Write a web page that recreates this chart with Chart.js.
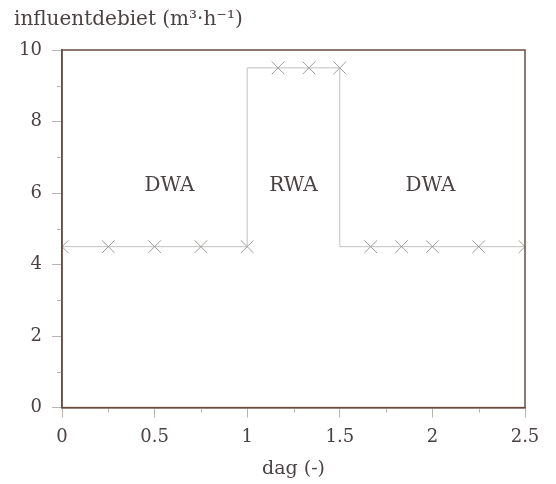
<!DOCTYPE html>
<html>
<head>
<meta charset="utf-8">
<script src="https://cdn.jsdelivr.net/npm/chart.js@4.4.1/dist/chart.umd.min.js"></script>
<style>
  html, body { margin: 0; padding: 0; background: #ffffff; }
  #wrap { width: 556px; height: 484px; }
</style>
</head>
<body>
<div id="wrap"><canvas id="chart" width="556" height="484"></canvas></div>
<script>
// Influent flow over time (days), dry-weather and rain-weather periods
const days = [0, 0.25, 0.5, 0.75, 1.0, 1.1667, 1.3333, 1.5, 1.6667, 1.8333, 2.0, 2.25, 2.5];
const flow = [4.5, 4.5, 4.5, 4.5, 4.5, 9.5, 9.5, 9.5, 4.5, 4.5, 4.5, 4.5, 4.5];

// Period labels and where they sit in data units
const periodNames = ['DWA', 'RWA', 'DWA'];
const periodX = [0.58, 1.25, 1.99];
const periodY = [6.2, 6.2, 6.2];

// Axis ticks
const xMajor = [0, 0.5, 1, 1.5, 2, 2.5];
const xMinor = [0.25, 0.75, 1.25, 1.75, 2.25];
const yMajor = [0, 2, 4, 6, 8, 10];
const yMinor = [1, 3, 5, 7, 9];

const textColor = '#4a4242';
const frameColor = '#6a4c40';
const tickColor = '#b8b4b0';
const serif = 'DejaVu Serif';

const frameAndMinor = {
  id: 'frameAndMinor',
  afterDraw(chart) {
    const { ctx, chartArea: a, scales: { x, y } } = chart;
    ctx.save();
    // minor tick marks
    ctx.strokeStyle = tickColor;
    ctx.lineWidth = 1;
    ctx.beginPath();
    yMinor.forEach(v => {
      const py = Math.round(y.getPixelForValue(v)) + 0.5;
      ctx.moveTo(a.left - 5, py); ctx.lineTo(a.left, py);
    });
    xMinor.forEach(v => {
      const px = Math.round(x.getPixelForValue(v)) + 0.5;
      ctx.moveTo(px, a.bottom); ctx.lineTo(px, a.bottom + 5);
    });
    ctx.stroke();
    // box around the plot area
    ctx.strokeStyle = frameColor;
    ctx.lineWidth = 1.5;
    ctx.strokeRect(a.left, a.top, a.right - a.left, a.bottom - a.top);
    // period labels
    ctx.fillStyle = textColor;
    ctx.font = '20px "' + serif + '"';
    ctx.textAlign = 'center';
    ctx.textBaseline = 'middle';
    periodNames.forEach((name, i) => {
      ctx.fillText(name, x.getPixelForValue(periodX[i]), y.getPixelForValue(periodY[i]));
    });
    ctx.restore();
  }
};

new Chart(document.getElementById('chart'), {
  type: 'scatter',
  data: {
    datasets: [
      {
        label: 'influentdebiet',
        data: days.map((d, i) => ({ x: d, y: flow[i] })),
        showLine: true,
        stepped: 'after',
        borderColor: '#c4c2c0',
        borderWidth: 1,
        pointStyle: 'crossRot',
        pointRadius: 9,
        pointBorderColor: '#a09e9c',
        pointBorderWidth: 1,
        pointBackgroundColor: '#a09e9c'
      }
    ]
  },
  options: {
    responsive: false,
    animation: false,
    layout: { padding: { left: 14, right: 31, top: 0, bottom: 0 } },
    plugins: {
      legend: { display: false },
      tooltip: { enabled: false },
      title: {
        display: true,
        text: 'influentdebiet (m³·h⁻¹)',
        align: 'start',
        color: textColor,
        font: { family: serif, size: 20, weight: 'normal' },
        padding: { top: 8, bottom: 18 }
      }
    },
    scales: {
      x: {
        type: 'linear',
        min: 0,
        max: 2.5,
        afterBuildTicks: s => { s.ticks = xMajor.map(v => ({ value: v })); },
        ticks: {
          color: textColor,
          font: { family: serif, size: 18 },
          padding: 9,
          maxRotation: 0,
          callback: v => String(v)
        },
        grid: { drawOnChartArea: false, tickLength: 10, tickColor: tickColor },
        border: { color: frameColor, width: 1.5 },
        title: {
          display: true,
          text: 'dag (-)',
          color: textColor,
          font: { family: serif, size: 19 },
          padding: { top: 0, bottom: 4 }
        }
      },
      y: {
        type: 'linear',
        min: 0,
        max: 10,
        afterBuildTicks: s => { s.ticks = yMajor.map(v => ({ value: v })); },
        afterFit: s => { s.width = 48; },
        ticks: {
          color: textColor,
          font: { family: serif, size: 18 },
          padding: 10,
          callback: v => String(v)
        },
        grid: { drawOnChartArea: false, tickLength: 10, tickColor: tickColor },
        border: { color: frameColor, width: 1.5 }
      }
    }
  },
  plugins: [frameAndMinor]
});
</script>
</body>
</html>
